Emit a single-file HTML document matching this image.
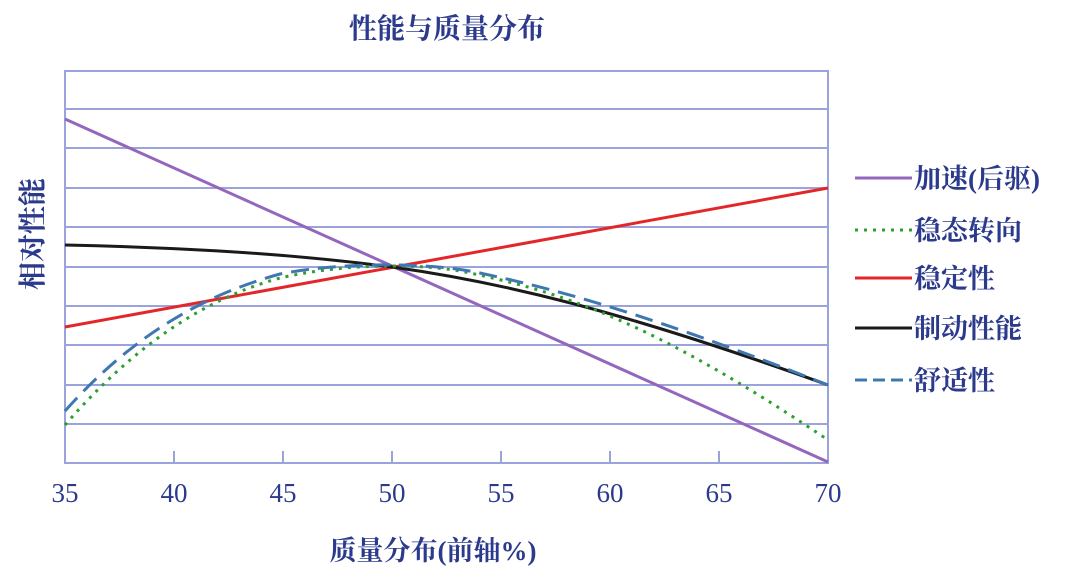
<!DOCTYPE html>
<html><head><meta charset="utf-8"><style>
body{margin:0;background:#fff;}
svg text{font-family:"Liberation Serif","Noto Serif CJK SC","Noto Sans CJK SC",serif;fill:#2b3a8c;font-weight:bold;}
svg .tk text{font-weight:normal;}
</style></head><body>
<svg width="1073" height="573" viewBox="0 0 1073 573" xmlns="http://www.w3.org/2000/svg">
<text x="447" y="38" font-size="28" text-anchor="middle">性能与质量分布</text>
<g stroke="#9aa3dc" stroke-width="2" fill="none">
<rect x="65" y="71" width="763" height="392"/>
<line x1="65" y1="109" x2="828" y2="109"/>
<line x1="65" y1="148" x2="828" y2="148"/>
<line x1="65" y1="188" x2="828" y2="188"/>
<line x1="65" y1="227" x2="828" y2="227"/>
<line x1="65" y1="267" x2="828" y2="267"/>
<line x1="65" y1="306" x2="828" y2="306"/>
<line x1="65" y1="345" x2="828" y2="345"/>
<line x1="65" y1="385" x2="828" y2="385"/>
<line x1="65" y1="424" x2="828" y2="424"/>
<line x1="174" y1="451" x2="174" y2="463"/>
<line x1="283" y1="451" x2="283" y2="463"/>
<line x1="392" y1="451" x2="392" y2="463"/>
<line x1="501" y1="451" x2="501" y2="463"/>
<line x1="610" y1="451" x2="610" y2="463"/>
<line x1="719" y1="451" x2="719" y2="463"/>
</g>
<g fill="none" stroke-width="3">
<line x1="65" y1="119" x2="828" y2="462" stroke="#9467bd"/>
<line x1="65" y1="327" x2="828" y2="188" stroke="#e3262a"/>
<path d="M65,245 C200,248 300,255 392,267 C500,282 620,310 828,385" stroke="#1a1a1a"/>
<path d="M65,425 C130,350 200,300 280,278 C340,264 420,262 470,273 C560,292 650,320 828,440" stroke="#2ca02c" stroke-dasharray="3 6"/>
<path d="M65,411 C130,338 200,296 280,274 C340,262 430,262 480,273 C560,290 650,315 828,385" stroke="#3f78b0" stroke-dasharray="18 9"/>
</g>
<g class="tk" font-size="27" text-anchor="middle">
<text x="65" y="502">35</text><text x="174" y="502">40</text><text x="283" y="502">45</text><text x="392" y="502">50</text><text x="501" y="502">55</text><text x="610" y="502">60</text><text x="719" y="502">65</text><text x="828" y="502">70</text>
</g>
<text x="433" y="560" font-size="27" text-anchor="middle">质量分布(前轴%)</text>
<text transform="translate(42,234) rotate(-90)" font-size="28" text-anchor="middle">相对性能</text>
<g stroke-width="3">
<line x1="855" y1="178" x2="912" y2="178" stroke="#9467bd"/>
<line x1="855" y1="230" x2="912" y2="230" stroke="#2ca02c" stroke-dasharray="3 6"/>
<line x1="855" y1="278" x2="912" y2="278" stroke="#e3262a"/>
<line x1="855" y1="328" x2="912" y2="328" stroke="#1a1a1a"/>
<line x1="855" y1="380" x2="912" y2="380" stroke="#3f78b0" stroke-dasharray="12 6"/>
</g>
<g font-size="27">
<text x="914" y="188">加速(后驱)</text>
<text x="914" y="240">稳态转向</text>
<text x="914" y="288">稳定性</text>
<text x="914" y="338">制动性能</text>
<text x="914" y="390">舒适性</text>
</g>
</svg>
</body></html>
